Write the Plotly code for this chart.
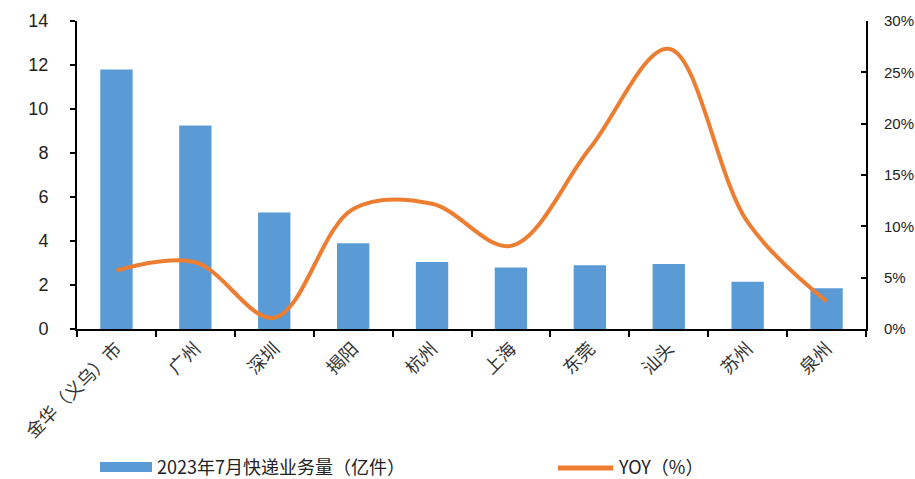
import plotly.graph_objects as go

cities = ["金华（义乌）市", "广州", "深圳", "揭阳", "杭州", "上海", "东莞", "汕头", "苏州", "泉州"]
volume = [11.8, 9.25, 5.3, 3.9, 3.05, 2.8, 2.9, 2.95, 2.15, 1.85]
yoy = [0.057, 0.065, 0.011, 0.117, 0.122, 0.081, 0.176, 0.273, 0.104, 0.027]
bar_name = "2023年7月快递业务量（亿件）"
line_name = "YOY（%）"

BAR_C = "#5B9BD5"
LINE_C = "#ED7D31"
CJK = "Noto Sans CJK SC"
NUM = "Liberation Sans"

fig = go.Figure()
fig.add_trace(go.Bar(x=cities, y=volume, name=bar_name, marker_color=BAR_C,
                     marker_line_width=0, showlegend=False))
fig.add_trace(go.Scatter(x=cities, y=yoy, name=line_name, yaxis="y2", mode="lines",
                         line=dict(color=LINE_C, width=4, shape="spline", smoothing=1.0),
                         showlegend=False))

fig.update_layout(
    width=915, height=479,
    margin=dict(l=77, r=49, t=21, b=150),
    paper_bgcolor="white", plot_bgcolor="white",
    bargap=0.59,
    xaxis=dict(showline=True, linecolor="black", linewidth=2, ticks="outside",
               tickson="boundaries", ticklen=6, tickwidth=2, tickcolor="black",
               tickangle=-45, tickfont=dict(family=CJK, size=18, color="#333"),
               showgrid=False, zeroline=False, automargin=False),
    yaxis=dict(range=[0, 14], dtick=2, showline=True, linecolor="black", linewidth=2,
               ticks="outside", ticklen=5, tickwidth=2, tickcolor="black",
               ticklabelstandoff=18, automargin=False,
               tickfont=dict(family=NUM, size=18, color="#222"), showgrid=False,
               zeroline=False),
    yaxis2=dict(range=[0, 0.30], dtick=0.05, tickformat=".0%", overlaying="y", side="right",
                showline=True, linecolor="black", linewidth=2, ticks="inside", ticklen=5,
                tickwidth=2, tickcolor="black", ticklabelstandoff=13, automargin=False,
                tickfont=dict(family=NUM, size=15, color="#222"), showgrid=False,
                zeroline=False),
)

# manual legend
fig.add_shape(type="rect", xref="paper", yref="paper", x0=(100-77)/789, x1=(152-77)/789,
              y0=(329-472)/308, y1=(329-462)/308, fillcolor=BAR_C, line_width=0)
fig.add_annotation(xref="paper", yref="paper", x=(155-77)/789, y=(329-466)/308,
                   text=bar_name, showarrow=False, xanchor="left", yanchor="middle",
                   font=dict(family=CJK, size=18, color="#222"))
fig.add_shape(type="line", xref="paper", yref="paper", x0=(558-77)/789, x1=(613-77)/789,
              y0=(329-468)/308, y1=(329-468)/308, line=dict(color=LINE_C, width=5))
fig.add_annotation(xref="paper", yref="paper", x=(616-77)/789, y=(329-466)/308,
                   text=line_name, showarrow=False, xanchor="left", yanchor="middle",
                   font=dict(family=CJK, size=18, color="#222"))

fig.write_html("out.html")
